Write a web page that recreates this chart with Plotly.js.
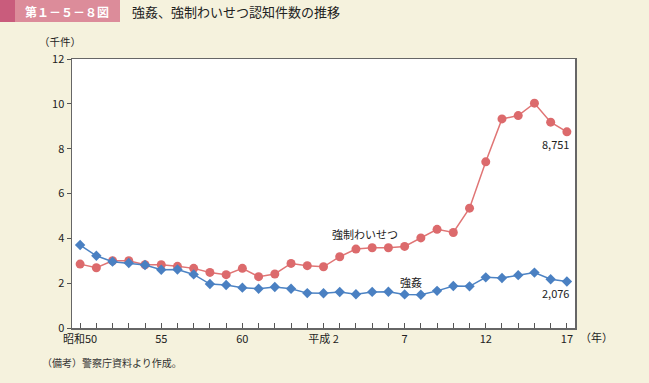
<!DOCTYPE html>
<html>
<head>
<meta charset="utf-8">
<script src="https://cdn.plot.ly/plotly-3.0.1.min.js"></script>
<style>
html,body{margin:0;padding:0;background:#f5f2dd;}
#chart{width:649px;height:383px;}
</style>
</head>
<body>
<div id="chart"></div>
<script>
const years = [1975,1976,1977,1978,1979,1980,1981,1982,1983,1984,1985,1986,1987,1988,1989,1990,1991,1992,1993,1994,1995,1996,1997,1998,1999,2000,2001,2002,2003,2004,2005];
const tickLabels = ["昭和50","","","","","55","","","","","60","","","","","平成 2","","","","","7","","","","","12","","","","","17"];
const indecentAssault = [2.85,2.69,3.00,3.00,2.82,2.82,2.75,2.66,2.48,2.38,2.66,2.29,2.41,2.88,2.78,2.73,3.18,3.52,3.58,3.58,3.64,4.02,4.40,4.26,5.346,7.412,9.326,9.476,10.029,9.184,8.751];
const rape = [3.70,3.22,2.96,2.90,2.81,2.60,2.61,2.39,1.96,1.92,1.80,1.75,1.83,1.75,1.556,1.548,1.603,1.504,1.611,1.616,1.500,1.483,1.657,1.873,1.857,2.260,2.228,2.357,2.472,2.176,2.076];
const seriesNames = ["強制わいせつ","強姦"];
const endLabels = ["8,751","2,076"];

const font = "'Noto Sans CJK JP', 'Noto Sans', sans-serif";
const L=72, R=575, T=59, B=328;
const px = x => (x-L)/(R-L);
const py = y => (B-y)/(B-T);

const traces = [
  {x: years, y: indecentAssault, name: seriesNames[0], type:'scatter', mode:'lines+markers',
   line:{color:'#e07575', width:1.5}, marker:{color:'#dc6a6c', size:9, symbol:'circle'}},
  {x: years, y: rape, name: seriesNames[1], type:'scatter', mode:'lines+markers',
   line:{color:'#4c83c4', width:1.5}, marker:{color:'#4a80c2', size:8, symbol:'diamond'}}
];

const layout = {
  width:649, height:383,
  paper_bgcolor:'#f5f2dd', plot_bgcolor:'#ffffff',
  margin:{l:L, r:649-R, t:T, b:383-B},
  showlegend:false,
  font:{family:font, size:11, color:'#222'},
  title:{text:'強姦、強制わいせつ認知件数の推移', x:132/649, xanchor:'left', y:1-12/383, yanchor:'middle',
         font:{family:font, size:13, color:'#222'}},
  xaxis:{range:[years[0]-0.5, years[years.length-1]+0.5], tickvals:years, ticktext:tickLabels,
         ticks:'inside', ticklen:5, tickcolor:'#555', tickwidth:1,
         showline:true, linecolor:'#666', linewidth:1.5, mirror:true, showgrid:false, zeroline:false,
         tickfont:{family:font, size:11, color:'#222'}, tickangle:0},
  yaxis:{range:[0,12], dtick:2, ticks:'outside', ticklen:4, tickcolor:'#555',
         showline:true, linecolor:'#666', linewidth:1.5, mirror:true, showgrid:false, zeroline:false,
         tickfont:{family:font, size:11, color:'#222'}},
  shapes:[
    {type:'rect', xref:'paper', yref:'paper', x0:px(0), x1:px(120), y0:py(22), y1:py(0), fillcolor:'#dc8c9a', line:{width:0}, layer:'below'},
    {type:'rect', xref:'paper', yref:'paper', x0:px(0), x1:px(15), y0:py(22), y1:py(0), fillcolor:'#c95c7c', line:{width:0}, layer:'below'}
  ],
  annotations:[
    {text:'<b>第１－５－８図</b>', xref:'paper', yref:'paper', x:px(67), y:py(11), showarrow:false, xanchor:'center', yanchor:'middle',
     font:{family:font, size:12, color:'#ffffff'}},
    {text:'（千件）', xref:'paper', yref:'paper', x:px(60), y:py(42), showarrow:false, xanchor:'center', yanchor:'middle',
     font:{family:font, size:10.5, color:'#222'}},
    {text:'（年）', xref:'paper', yref:'paper', x:px(578), y:py(337), showarrow:false, xanchor:'left', yanchor:'middle',
     font:{family:font, size:11, color:'#222'}},
    {text:'（備考）警察庁資料より作成。', xref:'paper', yref:'paper', x:px(40), y:py(362), showarrow:false, xanchor:'left', yanchor:'middle',
     font:{family:font, size:10, color:'#333'}},
    {text:seriesNames[0], x:1992.56, y:4.2, showarrow:false, xanchor:'center', yanchor:'middle',
     font:{family:font, size:11, color:'#222'}},
    {text:seriesNames[1], x:1995.4, y:2.05, showarrow:false, xanchor:'center', yanchor:'middle',
     font:{family:font, size:11, color:'#222'}},
    {text:endLabels[0], x:years[30], y:indecentAssault[30], showarrow:false, xanchor:'right', yanchor:'middle', xshift:4, yshift:-12,
     font:{family:font, size:11, color:'#222'}},
    {text:endLabels[1], x:years[30], y:rape[30], showarrow:false, xanchor:'right', yanchor:'middle', xshift:4, yshift:-12,
     font:{family:font, size:11, color:'#222'}}
  ]
};
Plotly.newPlot('chart', traces, layout, {displayModeBar:false, staticPlot:true});
</script>
</body>
</html>
